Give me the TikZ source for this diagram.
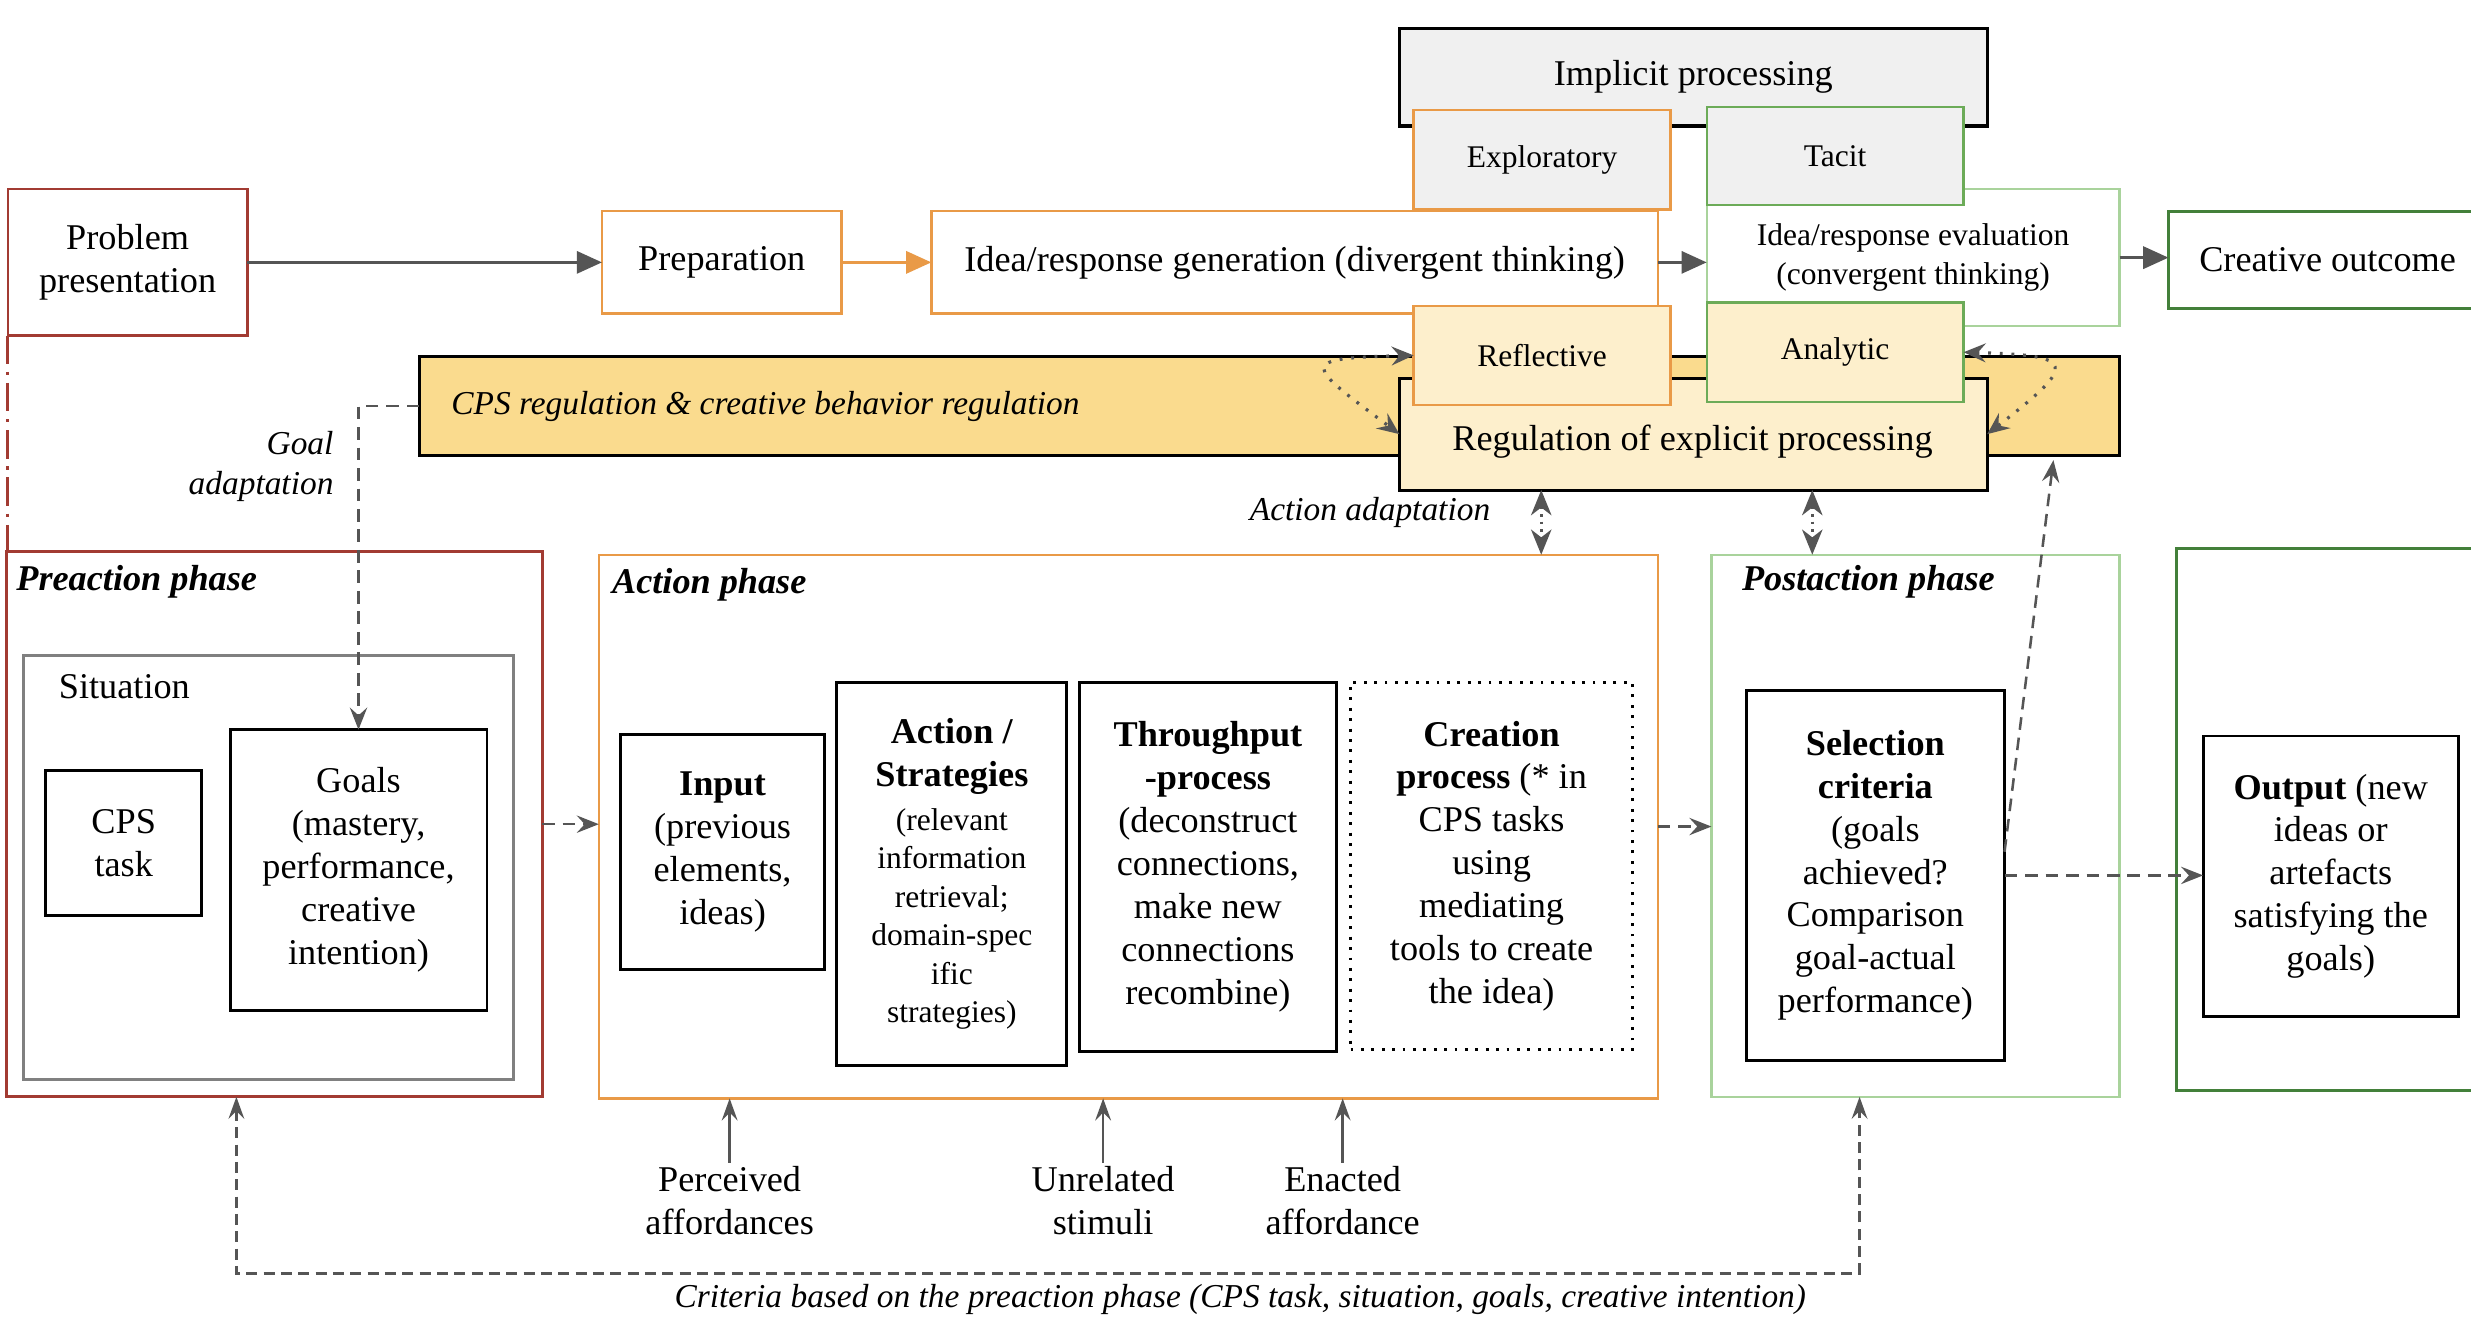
\documentclass[tikz,border=0pt]{standalone}
\usepackage{fontspec}
\setmainfont{Liberation Serif}
\usetikzlibrary{arrows.meta,calc}
\definecolor{prred}{HTML}{A23B32}
\definecolor{orng}{HTML}{E99A47}
\definecolor{lgreen}{HTML}{A9D39C}
\definecolor{mgreen}{HTML}{6CAB58}
\definecolor{dgreen}{HTML}{43803A}
\definecolor{gold}{HTML}{FADB8E}
\definecolor{cream}{HTML}{FDEFCC}
\definecolor{lgray}{HTML}{F0F0F0}
\definecolor{agray}{HTML}{555555}
\definecolor{sitgray}{HTML}{808080}
\newcommand{\fA}{\fontsize{11.5}{13.6}\selectfont}
\newcommand{\fB}{\fontsize{10}{12.2}\selectfont}
\newcommand{\fC}{\fontsize{10.6}{12.5}\selectfont}
\newcommand{\bx}[7]{%
  \pgfmathsetmacro{\bw}{(#4-#2)*0.5}%
  \pgfmathsetmacro{\bh}{(#5-#3)*0.5}%
  \node[#6, minimum width=\bw pt, minimum height=\bh pt] (#1) at ({(#2+#4)/2},{(#3+#5)/2}) {#7};}
\begin{document}
\begin{tikzpicture}[x=0.5pt,y=-0.5pt,
  cbox/.style={draw, fill=white, inner sep=2pt, outer sep=0pt, align=center, font=\fA, line width=0.75pt},
  blk/.style={cbox, draw=black, line width=0.9pt},
  ttl/.style={anchor=west, font=\fA\bfseries\itshape, inner sep=0pt},
  lab/.style={font=\fC\itshape, inner sep=0pt},
  arr/.style={draw=agray, line width=1pt, -{Triangle[length=8pt,width=7pt]}},
  darr/.style={draw=agray, line width=0.8pt, dash pattern=on 4pt off 2.5pt, -{Stealth[length=7pt,width=5.5pt,inset=2.5pt]}},
  sarr/.style={draw=agray, line width=0.8pt, -{Stealth[length=7pt,width=5pt,inset=2.5pt]}},
  dblarr/.style={draw=agray, line width=0.8pt, dash pattern=on 0.8pt off 1.6pt, {Stealth[length=8pt,width=6.5pt,inset=2.5pt]}-{Stealth[length=8pt,width=6.5pt,inset=2.5pt]}},
  dcurve/.style={draw=agray, line width=1pt, dash pattern=on 0.9pt off 2.8pt, {Stealth[length=7pt,width=6pt,inset=2.5pt]}-{Stealth[length=7pt,width=6pt,inset=2.5pt]}}
]
\clip (0,0) rectangle (1568,838);
\fill[white] (0,0) rectangle (1568,838);

% ---------- top row ----------
\bx{impl}{888}{18}{1261}{80}{blk, fill=lgray, line width=1pt}{Implicit processing}
\bx{prob}{5}{120}{157}{213}{cbox, draw=prred}{Problem\\presentation}
\bx{prep}{382}{134}{534}{199}{cbox, draw=orng}{Preparation}
\bx{idea}{591}{134}{1052}{199}{cbox, draw=orng}{Idea/response generation (divergent thinking)}
\bx{eval}{1083}{120}{1345}{207}{cbox, draw=lgreen, font=\fB}{Idea/response evaluation\\(convergent thinking)}
\bx{expl}{897}{70}{1060}{133}{cbox, draw=orng, fill=lgray, font=\fB}{Exploratory}
\bx{tac}{1083}{68}{1246}{130}{cbox, draw=mgreen, fill=lgray, font=\fB}{Tacit}
\bx{co}{1376}{134}{1578}{196}{cbox, draw=dgreen, line width=0.9pt}{Creative outcome}

% ---------- regulation ----------
\bx{cps}{266}{226}{1345}{289}{blk, fill=gold}{}
\node[lab, anchor=west] (cpst) at (286,258) {CPS regulation \& creative behavior regulation};
\bx{reg}{888}{240}{1261}{311}{blk, fill=cream}{}
\node[font=\fA, inner sep=0pt] (regt) at (1074,280) {Regulation of explicit processing};
\bx{refl}{897}{194}{1060}{257}{cbox, draw=orng, fill=cream, font=\fB}{Reflective}
\bx{ana}{1083}{192}{1246}{255}{cbox, draw=mgreen, fill=cream, font=\fB}{Analytic}

% ---------- phases ----------
\bx{pre}{4}{350}{344}{696}{cbox, draw=prred, line width=0.9pt}{}
\bx{sit}{15}{416}{326}{685}{cbox, draw=sitgray, line width=0.9pt}{}
\bx{task}{29}{489}{128}{581}{blk}{CPS\\task}
\bx{goals}{146}{463}{309}{641}{blk}{Goals\\(mastery,\\performance,\\creative\\intention)}
\bx{act}{380}{352}{1052}{697}{cbox, draw=orng}{}
\bx{inp}{394}{466}{523}{615}{blk}{\textbf{Input}\\(previous\\elements,\\ideas)}
\bx{strat}{531}{433}{677}{676}{blk, font=\fB}{\fA\textbf{Action /}\\[1.6pt]\fA\textbf{Strategies}\\[1.6pt](relevant\\information\\retrieval;\\domain-spec\\ific\\strategies)}
\bx{thr}{685}{433}{848}{667}{blk}{\textbf{Throughput}\\\textbf{-process}\\(deconstruct\\connections,\\make new\\connections\\recombine)}
\bx{crea}{857}{433}{1036}{666}{blk, line width=1pt, dash pattern=on 0.9pt off 2.4pt}{\textbf{Creation}\\\textbf{process} (* in\\CPS tasks\\using\\mediating\\tools to create\\the idea)}
\bx{post}{1086}{352}{1345}{696}{cbox, draw=lgreen}{}
\bx{sel}{1108}{438}{1272}{673}{blk}{\textbf{Selection}\\\textbf{criteria}\\(goals\\achieved?\\Comparison\\goal-actual\\performance)}
\bx{outb}{1381}{348}{1600}{692}{cbox, draw=dgreen, line width=0.9pt}{}
\bx{outp}{1398}{467}{1560}{645}{blk}{\textbf{Output} (new\\ideas or\\artefacts\\satisfying the\\goals)}

\node[ttl] (pret) at (10,369) {Preaction phase};
\node[ttl] (actt) at (388,371) {Action phase};
\node[ttl] (postt) at (1105,369) {Postaction phase};
\node[anchor=west, font=\fA, inner sep=0pt] (sitt) at (37,436) {Situation};

% ---------- labels ----------
\node[lab, align=right, anchor=east] (gadapt) at (212,296) {Goal\\adaptation};
\node[lab, anchor=east] (aadapt) at (946,325) {Action adaptation};
\node[font=\fA, align=center, inner sep=1pt] (perc) at (463,762) {Perceived\\affordances};
\node[font=\fA, align=center, inner sep=1pt] (unrel) at (700,762) {Unrelated\\stimuli};
\node[font=\fA, align=center, inner sep=1pt] (enact) at (852,762) {Enacted\\affordance};
\node[lab, anchor=base] (crit) at (787,830) {Criteria based on the preaction phase (CPS task, situation, goals, creative intention)};

% ---------- connectors ----------
\draw[arr] (prob.east) -- (prep.west);
\draw[draw=orng, line width=1pt, -{Triangle[length=8pt,width=7pt]}, orng] (prep.east) -- (idea.west);
\draw[arr] (idea.east) -- (idea.east -| eval.west);
\draw[arr] (eval.east) -- (eval.east -| co.west);

\draw[prred, line width=1pt, dash pattern=on 9pt off 2.5pt on 1pt off 2.5pt] (prob.south west) -- (prob.south west |- pre.north);

\draw[darr] (cps.west) -| (goals.north);
\draw[darr] (pre.east) -- (pre.east -| act.west);
\draw[darr] (act.east) -- (act.east -| post.west);
\draw[darr] (sel.east) -- (sel.east -| outp.west);
\coordinate (fbend) at (1303,292);
\draw[darr] ($(sel.east)+(0,-15)$) -- (fbend);

\coordinate (aa1) at (978,330);
\coordinate (aa2) at (1150,330);
\draw[dblarr] (aa1 |- reg.south) -- (aa1 |- act.north);
\draw[dblarr] (aa2 |- reg.south) -- (aa2 |- post.north);

\draw[dcurve] (refl.west) .. controls +(-75,2) and +(-60,-45) .. (reg.west);
\draw[dcurve] (ana.east) .. controls +(72,2) and +(58,-45) .. (reg.east);

\draw[sarr] (perc.north) -- (perc.north |- act.south);
\draw[sarr] (unrel.north) -- (unrel.north |- act.south);
\draw[sarr] (enact.north) -- (enact.north |- act.south);

\coordinate (cl) at (150,808);
\coordinate (cr) at (1180,808);
\draw[draw=agray, line width=0.8pt, dash pattern=on 3.5pt off 2pt, {Stealth[length=7pt,width=5pt,inset=2.5pt]}-{Stealth[length=7pt,width=5pt,inset=2.5pt]}] (cl |- pre.south) -- (cl) -- (cr) -- (cr |- post.south);
\end{tikzpicture}
\end{document}
